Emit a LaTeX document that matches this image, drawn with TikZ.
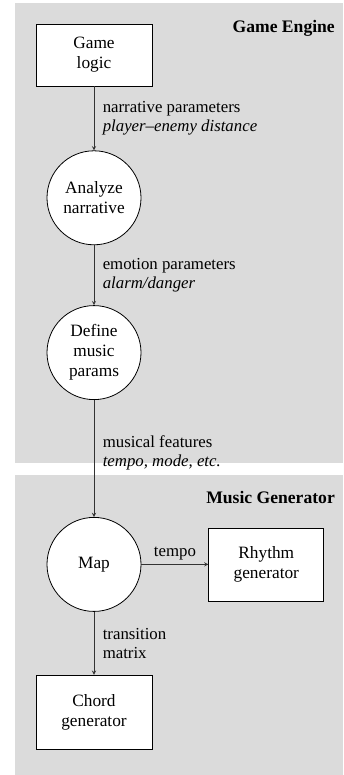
\documentclass[tikz,border=0pt]{standalone}
\usepackage{fontspec}
\setmainfont{Liberation Serif}
\usetikzlibrary{positioning,arrows}

\begin{document}
\begin{tikzpicture}[x=1pt, y=1pt, >=stealth,
        panel/.style={fill=black!14},
        box/.style={rectangle, draw, fill=white, line width=0.8pt,
            minimum width=116pt, minimum height=62pt, align=center,
            font=\fontsize{17.3}{20}\selectfont},
        proc/.style={circle, draw, fill=white, line width=0.8pt,
            minimum size=94pt, inner sep=0pt, align=center,
            font=\fontsize{17.3}{20}\selectfont},
        flow/.style={->, draw=black!80, line width=0.9pt},
        lbl/.style={right=5pt, align=left, font=\fontsize{16.8}{18.5}\selectfont},
        title/.style={anchor=base east, inner sep=0pt,
            font=\fontsize{17.6}{19}\selectfont\bfseries}]

        \useasboundingbox (0,0) rectangle (343,-775);

        % the two panels
        \fill[panel] (15,-3) rectangle (343,-463);
        \fill[panel] (15,-475) rectangle (343,-775);
        \node[title] (engine) at (335,-33) {Game Engine};
        \node[title] (generator) at (335,-503) {Music Generator};

        \node[box] (logic) at (94,-55) {Game\\logic};
        \node[proc, below=64pt of logic] (analyze) {Analyze\\narrative};
        \node[proc, below=60pt of analyze] (define) {Define\\music\\params};
        \node[proc, below=117pt of define] (map) {Map};
        \node[box, right=67pt of map, minimum width=115pt, minimum height=73pt] (rhythm) {Rhythm\\generator};
        \node[box, below=63pt of map, minimum height=74pt] (chord) {Chord\\generator};

        \draw[flow] (logic) -- node[lbl] {narrative parameters\\\textit{player--enemy distance}} (analyze);
        \draw[flow] (analyze) -- node[lbl] {emotion parameters\\\textit{alarm/danger}} (define);
        \draw[flow] (define) -- node[lbl, pos=0.45] {musical features\\\textit{tempo, mode, etc.}} (map);
        \draw[flow] (map) -- node[above=1pt, font=\fontsize{16.8}{18.5}\selectfont] {tempo} (rhythm);
        \draw[flow] (map) -- node[lbl] {transition\\matrix} (chord);

    \end{tikzpicture}
\end{document}
